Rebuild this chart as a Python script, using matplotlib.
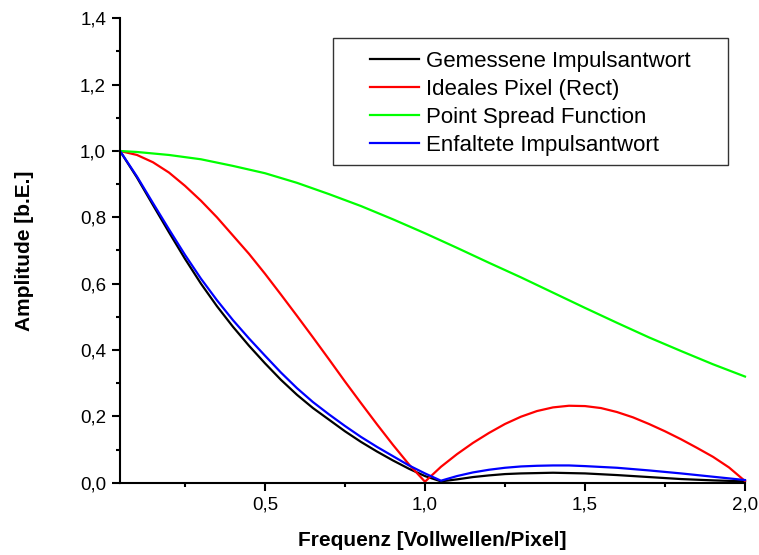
import matplotlib
matplotlib.use('Agg')
import matplotlib.pyplot as plt
from matplotlib.patches import Rectangle
from matplotlib.ticker import MultipleLocator

# Frequenz-Raster
x_imp = [0.047, 0.1, 0.15, 0.2, 0.25, 0.3, 0.35, 0.4, 0.45, 0.5, 0.55, 0.6, 0.65, 0.7,
         0.75, 0.8, 0.85, 0.9, 0.95, 1.0, 1.05, 1.1, 1.15, 1.2, 1.25, 1.3, 1.35, 1.4,
         1.45, 1.5, 1.6, 1.7, 1.8, 1.9, 2.0]
y_gem = [1.0, 0.92, 0.837, 0.755, 0.675, 0.6, 0.532, 0.47, 0.413, 0.36, 0.31, 0.265,
         0.225, 0.19, 0.155, 0.123, 0.094, 0.067, 0.042, 0.02, 0.004, 0.01, 0.017,
         0.022, 0.026, 0.028, 0.029, 0.030, 0.029, 0.028, 0.023, 0.017, 0.011, 0.007,
         0.004]
y_enf = [1.0, 0.923, 0.843, 0.764, 0.687, 0.615, 0.55, 0.49, 0.435, 0.383, 0.332, 0.285,
         0.243, 0.206, 0.171, 0.138, 0.108, 0.08, 0.052, 0.028, 0.006, 0.02, 0.031,
         0.039, 0.045, 0.049, 0.051, 0.052, 0.052, 0.05, 0.045, 0.037, 0.028, 0.018,
         0.008]

x_rect = [0.047, 0.1, 0.15, 0.2, 0.25, 0.3, 0.35, 0.4, 0.45, 0.5, 0.55, 0.6, 0.65, 0.7,
          0.75, 0.8, 0.85, 0.9, 0.95, 1.0, 1.05, 1.1, 1.15, 1.2, 1.25, 1.3, 1.35, 1.4,
          1.45, 1.5, 1.55, 1.6, 1.65, 1.7, 1.75, 1.8, 1.85, 1.9, 1.95, 2.0]
y_rect = [1.0, 0.988, 0.966, 0.935, 0.895, 0.85, 0.80, 0.745, 0.69, 0.63, 0.567, 0.503,
          0.438, 0.372, 0.305, 0.24, 0.176, 0.114, 0.055, 0.003, 0.048, 0.086, 0.12,
          0.15, 0.177, 0.199, 0.216, 0.227, 0.232, 0.231, 0.225, 0.213, 0.197, 0.177,
          0.155, 0.131, 0.105, 0.078, 0.046, 0.005]

x_psf = [0.047, 0.1, 0.2, 0.3, 0.4, 0.5, 0.6, 0.7, 0.8, 0.9, 1.0, 1.1, 1.2, 1.3, 1.4,
         1.5, 1.6, 1.7, 1.8, 1.9, 2.0]
y_psf = [1.0, 0.997, 0.988, 0.975, 0.955, 0.933, 0.904, 0.870, 0.834, 0.794, 0.752,
         0.708, 0.663, 0.619, 0.573, 0.527, 0.482, 0.438, 0.397, 0.357, 0.32]

labels = ['Gemessene Impulsantwort', 'Ideales Pixel (Rect)',
          'Point Spread Function', 'Enfaltete Impulsantwort']

xticks = [0.5, 1.0, 1.5, 2.0]
xtick_labels = ['0,5', '1,0', '1,5', '2,0']
yticks = [0.0, 0.2, 0.4, 0.6, 0.8, 1.0, 1.2, 1.4]
ytick_labels = ['0,0', '0,2', '0,4', '0,6', '0,8', '1,0', '1,2', '1,4']

plt.rcParams['font.family'] = ['Liberation Sans', 'DejaVu Sans']

W, H = 759, 555
fig = plt.figure(figsize=(W / 100, H / 100), dpi=100)
ax = fig.add_axes([120 / W, 1 - 482.7 / H, 625 / W, 464.4 / H])

lw = 1.6
ax.plot(x_imp, y_gem, color='black', lw=lw, label=labels[0], clip_on=False)
ax.plot(x_rect, y_rect, color='#ff0000', lw=lw, label=labels[1], clip_on=False)
ax.plot(x_psf, y_psf, color='#00ff00', lw=lw, label=labels[2], clip_on=False)
ax.plot(x_imp, y_enf, color='#0000ff', lw=lw, label=labels[3], clip_on=False)

ax.set_xlim(0.047, 2.0)
ax.set_ylim(0, 1.4)

ax.spines['top'].set_visible(False)
ax.spines['right'].set_visible(False)
for s in ['left', 'bottom']:
    ax.spines[s].set_linewidth(1.5)

ax.set_xticks(xticks)
ax.set_xticklabels(xtick_labels)
ax.set_yticks(yticks)
ax.set_yticklabels(ytick_labels)
ax.xaxis.set_minor_locator(MultipleLocator(0.25))
ax.yaxis.set_minor_locator(MultipleLocator(0.1))
ax.tick_params(which='major', direction='out', length=6, width=1.5, labelsize=13.5, pad=4)
ax.tick_params(which='minor', direction='out', length=3, width=1.5)

ax.set_xlabel('Frequenz [Vollwellen/Pixel]', fontsize=15, fontweight='bold')
ax.set_ylabel('Amplitude [b.E.]', fontsize=15, fontweight='bold')
ax.xaxis.set_label_coords(0.5, -0.105)
ax.yaxis.set_label_coords(-0.138, 0.5)

# Legende mit eigenem Rahmen
leg = fig.legend(loc='center', bbox_to_anchor=(530.4 / W, 1 - 103.5 / H),
                 frameon=False, fontsize=16, handlelength=2.2, handletextpad=0.35,
                 labelspacing=0.31, borderpad=0)
fig.patches.append(Rectangle((332.7 / W, 1 - 165 / H), 395.3 / W, 126.7 / H,
                             transform=fig.transFigure, fill=False,
                             edgecolor='#333333', lw=1.0))

fig.savefig('out.png', dpi=100)
